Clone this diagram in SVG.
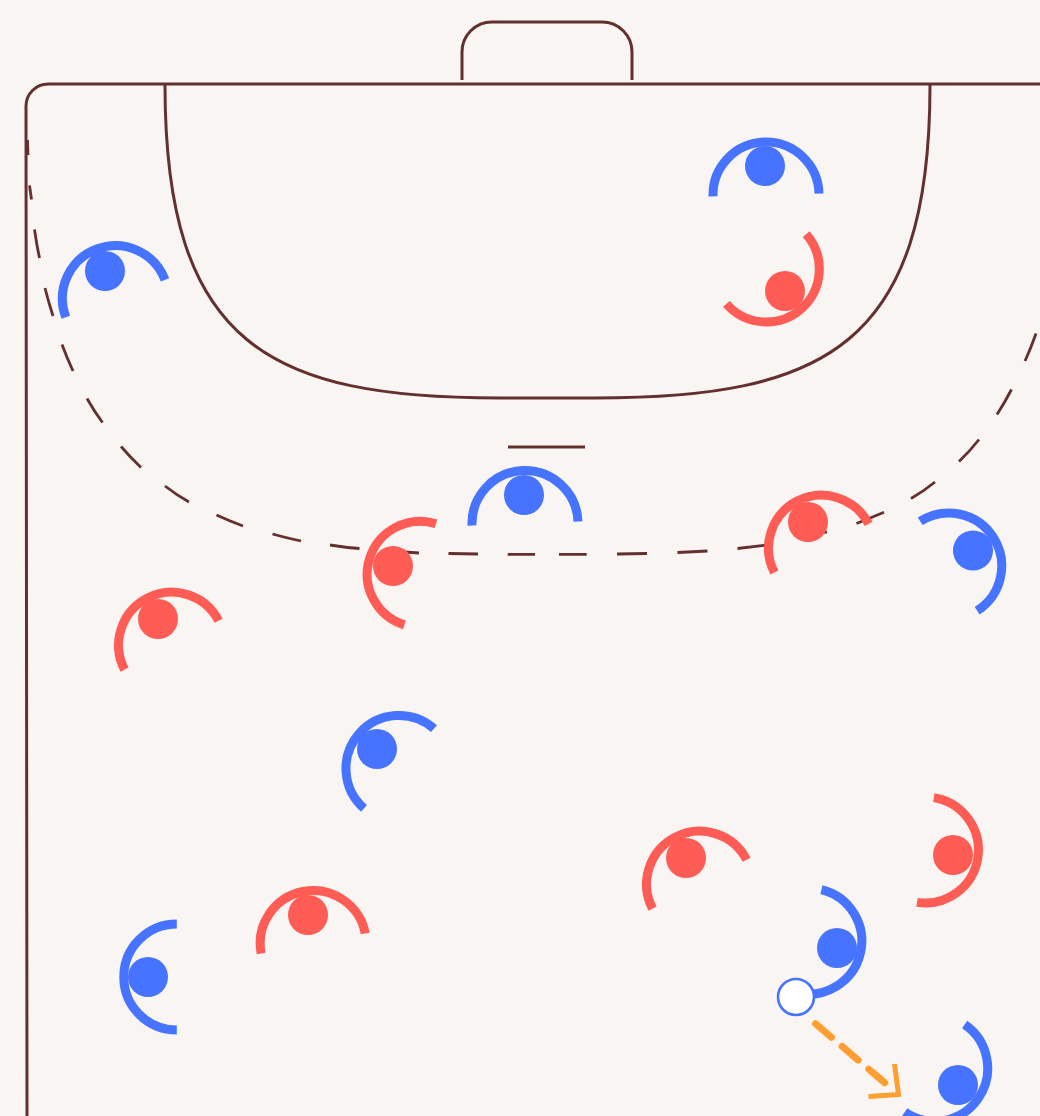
<svg xmlns="http://www.w3.org/2000/svg" width="1040" height="1116" viewBox="0 0 1040 1116">
<style>
.court{fill:none;stroke:#63302f;stroke-width:3}
.dash{fill:none;stroke:#63302f;stroke-width:2.8}
.arc{fill:none;stroke-width:9;stroke-dasharray:1 1}
.blue .arc{stroke:#4673ff}.blue .dot{fill:#4673ff}
.red .arc{stroke:#ff5c55}.red .dot{fill:#ff5c55}
.dot{stroke:none}
</style>
<rect width="1040" height="1116" fill="#f9f5f2"/>
<g id="court">
<path class="court" d="M27 1116 L26 106 A22 22 0 0 1 48 84 H1040"/>
<path class="court" d="M462 80 V52 A30 30 0 0 1 492 22 H602 A30 30 0 0 1 632 52 V80"/>
<path class="court" d="M165 85 C165 345 270 398 500 398 H595 C825 398 930 345 930 85"/>
<path class="court" d="M508 447 H585"/>
</g>
<g id="connectors">
<path class="dash" d="M27.500 140 L28 155 M29.500 185.500 L31.500 199.500 M34.500 229.500 Q36.500 244 39.500 258 M45 288 Q48.500 302 53 316 M62 344.500 Q67 358 73 371 M87 398.500 Q94 411 102.500 422.500 M121 446.500 Q130.500 457.500 141 467.500 M165 486 Q176.500 495 189 502 M216.500 515 Q229.500 521 243 526 M272.500 534 Q286.500 538 301 541 M330 545 Q345 547.500 359.500 548.500 M390 551 L419 553 M448.500 553.500 L478 554 M507.700 554.300 H535 M559 554.300 H586.700 M617 554 L647 553.500 M677.500 552.500 L707.500 551 M737.500 548.500 L767 545 M797 538 L827 532 M856.500 523.500 Q870.500 518 884 512.300 M911 498.500 Q924 491 935 482 M959 461.500 Q970 451 979 439.500 M997 414.500 Q1005 402 1011.500 389.500 M1025 361 Q1031 348 1036 333.500"/>
<path d="M815.500 1023.700 L885 1083" fill="none" stroke="#ff9f32" stroke-width="7" stroke-linecap="round" stroke-dasharray="21 14"/>
<path d="M894.500 1064 L898.500 1094.500 L868.500 1096.500" fill="none" stroke="#ff9f32" stroke-width="5"/>
</g>
<g id="p1" class="blue"><circle class="arc" cx="766" cy="195" r="53" pathLength="2" transform="rotate(178.4 766 195)"/><circle class="dot" cx="765" cy="166" r="20"/></g>
<g id="p2" class="red"><circle class="arc" cx="766.300" cy="269" r="53" pathLength="2" transform="rotate(-41.2 766.300 269)"/><circle class="dot" cx="785" cy="291" r="20"/></g>
<g id="p3" class="blue"><circle class="arc" cx="115.400" cy="298.600" r="53" pathLength="2" transform="rotate(159.4 115.400 298.600)"/><circle class="dot" cx="105" cy="271" r="20"/></g>
<g id="p4" class="blue"><circle class="arc" cx="525" cy="523.500" r="53" pathLength="2" transform="rotate(177.8 525 523.500)"/><circle class="dot" cx="524" cy="495" r="20"/></g>
<g id="p5" class="red"><circle class="arc" cx="420.200" cy="574.300" r="53" pathLength="2" transform="rotate(107.3 420.200 574.300)"/><circle class="dot" cx="393" cy="566" r="20"/></g>
<g id="p6" class="red"><circle class="arc" cx="821.500" cy="548.200" r="53" pathLength="2" transform="rotate(152.7 821.500 548.200)"/><circle class="dot" cx="808" cy="522" r="20"/></g>
<g id="p7" class="blue"><circle class="arc" cx="948.700" cy="566" r="53" pathLength="2" transform="rotate(-122.5 948.700 566)"/><circle class="dot" cx="973" cy="550.500" r="20"/></g>
<g id="p8" class="red"><circle class="arc" cx="171.600" cy="645.200" r="53" pathLength="2" transform="rotate(152.5 171.600 645.200)"/><circle class="dot" cx="158" cy="619" r="20"/></g>
<g id="p9" class="blue"><circle class="arc" cx="399" cy="768.500" r="53" pathLength="2" transform="rotate(131.3 399 768.500)"/><circle class="dot" cx="377" cy="749" r="20"/></g>
<g id="p10" class="red"><circle class="arc" cx="699.600" cy="884.200" r="53" pathLength="2" transform="rotate(152.5 699.600 884.200)"/><circle class="dot" cx="686" cy="858" r="20"/></g>
<g id="p11" class="red"><circle class="arc" cx="925.400" cy="850" r="53" pathLength="2" transform="rotate(-80.9 925.400 850)"/><circle class="dot" cx="953" cy="855" r="20"/></g>
<g id="p12" class="blue"><circle class="arc" cx="808.800" cy="941" r="53" pathLength="2" transform="rotate(-76.2 808.800 941)"/><circle class="dot" cx="837" cy="948" r="20"/></g>
<g id="p13" class="blue"><circle class="arc" cx="934.700" cy="1068.300" r="53" pathLength="2" transform="rotate(-55.6 934.700 1068.300)"/><circle class="dot" cx="958" cy="1085" r="20"/></g>
<g id="p14" class="red"><circle class="arc" cx="313.200" cy="943.500" r="53" pathLength="2" transform="rotate(169.1 313.200 943.500)"/><circle class="dot" cx="308" cy="915" r="20"/></g>
<g id="p15" class="blue"><circle class="arc" cx="176.800" cy="977" r="53" pathLength="2" transform="rotate(90 176.800 977)"/><circle class="dot" cx="148" cy="977" r="20"/></g>
<g id="ball"><circle cx="796" cy="997" r="18" fill="#fff" stroke="#4673ff" stroke-width="2.600"/></g>
</svg>
